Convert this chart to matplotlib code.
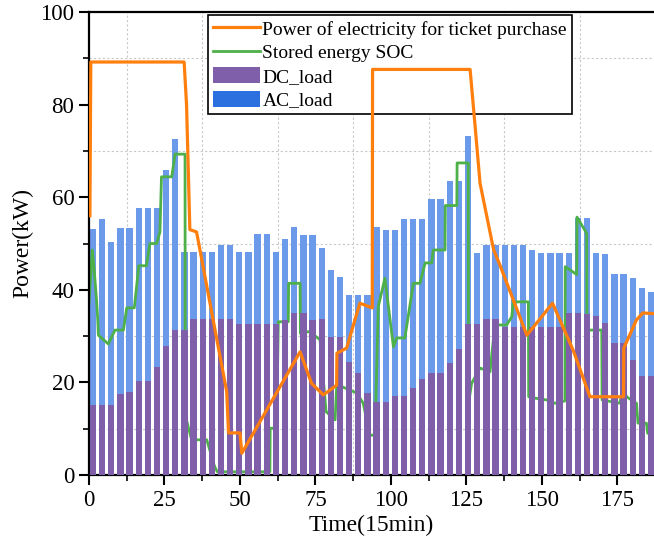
import numpy as np
import matplotlib
matplotlib.use("Agg")
import matplotlib.pyplot as plt
from matplotlib.lines import Line2D
from matplotlib.patches import Patch
from matplotlib.ticker import MultipleLocator

plt.rcParams['font.family'] = ['Liberation Serif', 'DejaVu Serif']

# load bars, one per 3 time steps (kW)
dc_load = [15.1, 15.1, 15.1, 17.5, 18.0, 20.2, 20.2, 23.4, 27.9, 31.3,
           31.3, 33.7, 33.7, 33.7, 33.7, 33.7, 32.6, 32.6, 32.6, 32.6,
           32.6, 33.5, 35.0, 35.0, 33.5, 33.6, 29.8, 29.8, 24.5, 22.1,
           17.7, 15.8, 15.8, 17.1, 17.1, 18.8, 20.7, 22.1, 22.1, 24.2,
           27.2, 32.6, 32.6, 33.7, 33.7, 32.0, 32.0, 32.0, 32.0, 32.0,
           32.0, 32.0, 35.0, 35.0, 34.7, 34.3, 32.9, 28.6, 28.6, 24.8,
           21.4, 21.4]
total_load = [53.1, 55.3, 50.3, 53.4, 53.4, 57.6, 57.6, 57.6, 65.9, 72.6,
              48.2, 48.2, 48.2, 48.2, 49.7, 49.7, 48.2, 48.2, 52.1, 52.1,
              48.2, 51.0, 53.5, 51.8, 51.8, 49.0, 44.3, 42.8, 38.9, 38.9,
              38.9, 53.6, 52.9, 52.9, 55.3, 55.3, 55.3, 59.6, 59.6, 63.5,
              63.5, 73.2, 47.9, 49.7, 49.7, 49.7, 49.7, 49.7, 48.6, 47.9,
              47.9, 47.9, 47.9, 55.5, 55.5, 48.0, 47.7, 43.4, 43.4, 42.5,
              40.4, 39.6]

# purchased power (orange)
buy_t = [0.3, 0.6, 31.5, 32.3, 33.4, 35.6, 36.2, 45.6, 46.2, 50.0, 50.6,
         69.9, 73.7, 77.6, 82.0, 82.1, 85.3, 89.7, 93.8, 93.9, 126.2,
         127.5, 129.5, 134.0, 135.8, 145.0, 153.5, 160.3, 165.9, 177.0,
         177.1, 181.3, 183.4, 188.0]
buy_p = [56.0, 89.2, 89.2, 80.0, 53.0, 52.5, 50.5, 18.0, 9.1, 9.1, 4.7,
         26.6, 19.8, 17.3, 19.4, 26.3, 27.4, 37.1, 36.1, 87.6, 87.6,
         78.0, 63.0, 48.6, 45.8, 30.2, 37.1, 27.0, 16.9, 16.9,
         27.4, 33.5, 35.0, 34.8]

# stored energy SOC (green)
soc_t = [0.0, 1.1, 1.8, 2.5, 2.9, 3.1, 6.4, 8.6, 11.4, 12.5, 15.0, 16.5,
         19.0, 20.2, 22.4, 23.5, 24.0, 27.4, 28.5, 31.8, 31.9, 32.3, 33.0,
         34.0, 39.0, 41.6, 42.5, 59.9, 60.0, 62.1, 62.7, 66.0, 66.1, 69.9,
         70.0, 73.0, 76.5, 78.5, 81.5, 82.0, 84.0, 88.7, 90.8, 93.0, 94.7,
         95.8, 98.0, 100.8, 101.9, 104.6, 107.4, 109.6, 111.3, 113.5, 114.0,
         117.9, 118.0, 121.8, 121.9, 125.6, 125.7, 126.7, 129.5, 132.8,
         134.4, 138.3, 140.0, 140.5, 145.5, 145.6, 147.7, 151.6, 154.3,
         157.6, 157.7, 161.5, 161.6, 164.8, 164.9, 169.8, 169.9, 175.8,
         176.8, 178.0, 181.3, 181.8, 184.6, 185.0, 188.0]
soc_p = [37.1, 48.6, 43.6, 37.8, 33.5, 30.2, 28.3, 31.3, 31.3, 36.1, 36.1,
         45.2, 45.2, 50.0, 50.0, 52.5, 64.4, 64.4, 69.3, 69.3, 6.1, 11.9,
         10.0, 7.6, 7.6, 1.8, 0.7, 0.7, 10.1, 10.1, 33.1, 33.1, 41.4, 41.4,
         30.6, 31.0, 29.2, 13.7, 11.9, 19.1, 19.0, 17.7, 15.5, 8.6, 8.6,
         36.4, 42.5, 27.7, 29.6, 29.6, 41.4, 41.4, 45.8, 45.8, 48.6,
         48.6, 58.2, 58.2, 67.4, 67.4, 15.5, 19.8, 23.1, 22.3,
         32.4, 32.4, 34.2, 37.4, 37.4, 16.9, 16.6, 16.2, 15.5,
         16.0, 45.0, 43.3, 55.7, 52.2, 31.3, 31.3, 16.2, 15.5,
         19.1, 16.9, 15.5, 11.2, 11.2, 9.0, 9.0]

bar_x = 1.3 + 3.03 * np.arange(len(dc_load))
ac_load = np.array(total_load) - np.array(dc_load)

c_dc = '#7F5FA9'
c_ac_bar = '#6A9AE9'
c_ac = '#2C6FDF'
c_buy = '#FF7F0E'
c_soc = '#4DB048'

fig = plt.figure(figsize=(6.54, 5.47), dpi=100)
ax = fig.add_axes([89 / 654, 1 - 475 / 547, 1 - 89 / 654, (475 - 12) / 547])

ax.bar(bar_x, ac_load, bottom=dc_load, width=2.1, color=c_ac_bar, zorder=1)
ax.plot(soc_t, soc_p, color=c_soc, lw=2.0, zorder=2)
ax.bar(bar_x, dc_load, width=2.1, color=c_dc, zorder=3)
ax.plot(buy_t, buy_p, color=c_buy, lw=2.3, zorder=6)

ax.set_xlim(0, 187.1)
ax.set_ylim(0, 100)
ax.xaxis.set_major_locator(MultipleLocator(25))
ax.xaxis.set_minor_locator(MultipleLocator(12.5))
ax.yaxis.set_major_locator(MultipleLocator(20))
ax.yaxis.set_minor_locator(MultipleLocator(10))
ax.grid(True, which='minor', color='#c8c8c8', linestyle=(0, (2, 2)), lw=0.8)
ax.set_axisbelow(True)

ax.tick_params(which='major', direction='out', length=7, width=1.5, labelsize=16.5)
ax.tick_params(which='minor', direction='out', length=4, width=1.2)
for s in ['left', 'bottom', 'top']:
    ax.spines[s].set_linewidth(1.6)
ax.spines['right'].set_visible(False)

ax.set_xlabel('Time(15min)', fontsize=17, labelpad=3)
ax.set_ylabel('Power(kW)', fontsize=17, labelpad=5)

handles = [Line2D([], [], color=c_buy, lw=2.3),
           Line2D([], [], color=c_soc, lw=2.0),
           Patch(facecolor=c_dc),
           Patch(facecolor=c_ac)]
labels = ['Power of electricity for ticket purchase', 'Stored energy SOC',
          'DC_load', 'AC_load']
leg = ax.legend(handles, labels, loc='upper left', bbox_to_anchor=(0.2106, 0.9935),
                fontsize=14, frameon=True, fancybox=False, edgecolor='black',
                framealpha=1, borderaxespad=0, borderpad=0.25, handlelength=2.4,
                handleheight=0.9, handletextpad=0.15, labelspacing=0.25)
leg.get_frame().set_linewidth(1.2)
leg.set_zorder(5)

fig.savefig('out.png', dpi=100)
